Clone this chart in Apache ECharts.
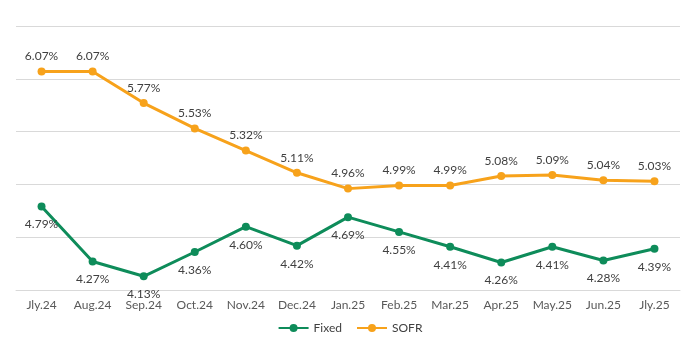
<!DOCTYPE html>
<html><head><meta charset="utf-8">
<script src="https://cdn.jsdelivr.net/npm/echarts@6/dist/echarts.min.js"></script>
<style>html,body{margin:0;padding:0;background:#fff}#c{width:700px;height:351px}</style>
</head><body><div id="c"></div>
<script>
const categories = ['Jly.24','Aug.24','Sep.24','Oct.24','Nov.24','Dec.24','Jan.25','Feb.25','Mar.25','Apr.25','May.25','Jun.25','Jly.25'];
const fixedValues = [4.79,4.27,4.13,4.36,4.60,4.42,4.69,4.55,4.41,4.26,4.41,4.28,4.39];
const sofrValues = [6.07,6.07,5.77,5.53,5.32,5.11,4.96,4.99,4.99,5.08,5.09,5.04,5.03];
const FONT = 'Lato';
const chart = echarts.init(document.getElementById('c'));
const labelStyle = {show:true, color:'#404040', fontSize:12, fontFamily:FONT, formatter: p => p.value.toFixed(2) + '%'};
chart.setOption({
  animation:false,
  grid:{left:16, right:20, top:26, bottom:61},
  legend:{bottom:12, left:'center', itemWidth:30, itemHeight:10, itemGap:14,
    textStyle:{color:'#404040', fontSize:12, fontFamily:FONT}, data:['Fixed','SOFR']},
  xAxis:{type:'category', data:categories, boundaryGap:true,
    axisLine:{lineStyle:{color:'#d9d9d9'}}, axisTick:{show:false},
    axisLabel:{color:'#595959', fontSize:12, fontFamily:FONT, margin:9, interval:0}},
  yAxis:{type:'value', min:4.0, max:6.5, interval:0.5, axisLabel:{show:false},
    axisLine:{show:false}, axisTick:{show:false}, splitLine:{lineStyle:{color:'#d9d9d9'}}},
  series:[
    {name:'Fixed', type:'line', data:fixedValues, symbol:'circle', symbolSize:8,
      lineStyle:{width:3, color:'#0e8c5a'}, itemStyle:{color:'#0e8c5a'},
      label:Object.assign({position:'bottom', distance:8}, labelStyle)},
    {name:'SOFR', type:'line', data:sofrValues, symbol:'circle', symbolSize:8,
      lineStyle:{width:3, color:'#f7a21b'}, itemStyle:{color:'#f7a21b'},
      label:Object.assign({position:'top', distance:5}, labelStyle)}
  ]
});
</script></body></html>
